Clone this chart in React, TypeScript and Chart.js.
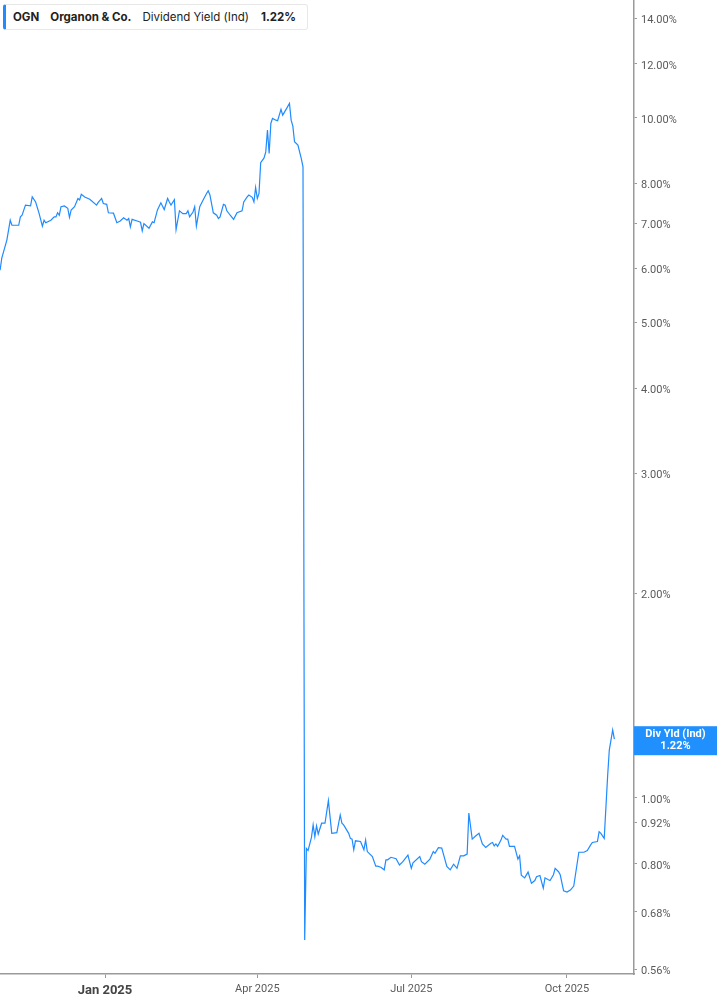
import { useEffect, useRef } from 'react';
import { Chart, registerables } from 'chart.js';

Chart.register(...registerables);

// ── Data (x = days since 2025-01-01, y = dividend yield in %) ──

const days = [
  -62, -61, -58, -56, -55, -52, -51, -50, -49, -47, -44, -43, -41, -39, -37, -36, -35, -32, -30, -29,
  -28, -27, -26, -24, -22, -21, -20, -18, -16, -15, -14, -12, -9, -5, -4, -2, -1, 1, 2, 5,
  7, 9, 11, 13, 14, 15, 16, 19, 21, 22, 23, 26, 28, 29, 31, 33, 35, 37, 38, 39,
  41, 42, 44, 46, 48, 49, 50, 52, 53, 54, 56, 58, 60, 61, 62, 64, 66, 67, 68, 70,
  71, 72, 74, 76, 78, 81, 82, 84, 85, 87, 88, 89, 90, 91, 92, 94, 95, 96, 97, 98,
  99, 101, 102, 104, 105, 107, 109, 110, 111, 112, 114, 115, 116, 117, 118, 119, 120, 122, 123, 124,
  125, 126, 128, 130, 132, 134, 137, 139, 140, 141, 144, 145, 146, 147, 148, 151, 153, 154, 155, 158,
  160, 161, 163, 165, 166, 167, 169, 172, 174, 176, 179, 181, 182, 186, 187, 189, 192, 194, 195, 197,
  199, 202, 204, 206, 208, 210, 212, 214, 215, 217, 219, 221, 223, 225, 228, 229, 230, 231, 232, 234,
  235, 237, 238, 239, 242, 244, 245, 246, 248, 250, 252, 254, 255, 257, 259, 260, 262, 263, 265, 266,
  268, 269, 271, 273, 275, 277, 280, 283, 285, 287, 288, 291, 292, 293, 295, 297, 298, 300, 301,
];

const yields = [
  5.97, 6.22, 6.61, 7.07, 6.95, 6.95, 6.95, 7.15, 7.19, 7.44, 7.42, 7.65, 7.52, 7.24, 6.93, 7.07, 7.01, 7.07, 7.15, 7.15,
  7.25, 7.19, 7.40, 7.42, 7.36, 7.14, 7.32, 7.40, 7.61, 7.57, 7.72, 7.65, 7.59, 7.44, 7.51, 7.61, 7.48, 7.46, 7.25, 7.24,
  7.01, 7.05, 7.13, 7.07, 7.11, 6.91, 7.09, 7.05, 7.02, 6.82, 6.99, 6.88, 7.03, 7.01, 7.32, 7.50, 7.33, 7.61, 7.52, 7.44,
  7.58, 6.85, 7.30, 7.23, 7.23, 7.30, 7.15, 7.27, 7.40, 6.93, 7.40, 7.57, 7.74, 7.81, 7.70, 7.25, 7.19, 7.11, 7.15, 7.46,
  7.44, 7.30, 7.19, 7.09, 7.25, 7.30, 7.52, 7.65, 7.70, 7.64, 7.52, 7.90, 7.61, 7.74, 8.59, 8.73, 8.91, 9.59, 8.86, 9.81,
  9.98, 9.92, 9.90, 10.29, 10.09, 10.29, 10.50, 9.92, 9.72, 9.22, 9.12, 8.91, 8.71, 8.47, 0.618, 0.843, 0.837, 0.875, 0.913, 0.877,
  0.910, 0.885, 0.918, 0.918, 0.991, 0.887, 0.889, 0.944, 0.918, 0.913, 0.887, 0.872, 0.870, 0.839, 0.865, 0.863, 0.839, 0.867, 0.834, 0.820,
  0.794, 0.794, 0.791, 0.784, 0.811, 0.811, 0.818, 0.814, 0.797, 0.806, 0.824, 0.788, 0.803, 0.820, 0.806, 0.799, 0.813, 0.834, 0.829, 0.845,
  0.844, 0.793, 0.784, 0.799, 0.788, 0.822, 0.822, 0.827, 0.950, 0.870, 0.879, 0.887, 0.856, 0.846, 0.858, 0.860, 0.850, 0.856, 0.849, 0.867,
  0.881, 0.870, 0.870, 0.849, 0.849, 0.813, 0.822, 0.770, 0.763, 0.778, 0.749, 0.756, 0.766, 0.769, 0.737, 0.763, 0.758, 0.756, 0.771, 0.788,
  0.779, 0.771, 0.730, 0.727, 0.732, 0.742, 0.832, 0.832, 0.837, 0.853, 0.860, 0.863, 0.892, 0.887, 0.872, 1.075, 1.176, 1.259, 1.22,
];

const xTicks = [0, 90, 181, 273];
const xTickLabels = ['Jan 2025', 'Apr 2025', 'Jul 2025', 'Oct 2025'];
const yTicks = [0.56, 0.68, 0.8, 0.92, 1, 2, 3, 4, 5, 6, 7, 8, 10, 12, 14];
const lastYield = 1.22;

const BLUE = '#1f8bff';
const AXIS = '#9a9a9a';
const TEXT = '#5a5a5a';
const FONT = 'Roboto, "Liberation Sans", Arial, sans-serif';

// ── End-of-line value tag on the right axis ──

const endLabel = {
  id: 'endLabel',
  afterDraw(chart: Chart) {
    const { ctx, chartArea, scales } = chart;
    const y = scales.y.getPixelForValue(lastYield) + 1.5;
    const left = chartArea.right;
    const w = chart.width - left;
    ctx.save();
    ctx.fillStyle = '#2190ff';
    ctx.fillRect(left, y - 14.5, w, 29);
    ctx.fillStyle = '#ffffff';
    ctx.font = `bold 11px ${FONT}`;
    ctx.textAlign = 'center';
    ctx.textBaseline = 'middle';
    ctx.fillText('Div Yld (Ind)', left + w / 2, y - 6);
    ctx.fillText(`${lastYield.toFixed(2)}%`, left + w / 2, y + 6);
    ctx.restore();
  },
};

// ── Legend header ──

function Header() {
  return (
    <div
      style={{
        position: 'absolute',
        left: 3,
        top: 4,
        height: 26,
        display: 'flex',
        alignItems: 'center',
        background: '#fff',
        border: '1px solid #e8e8e8',
        borderLeft: `3px solid ${BLUE}`,
        borderRadius: 3,
        padding: '0 11px 0 7px',
        fontFamily: 'Inter, "Noto Sans", sans-serif',
        fontSize: 11.5,
        color: '#222',
        whiteSpace: 'nowrap',
        boxSizing: 'border-box',
      }}
    >
      <span style={{ fontWeight: 700, marginRight: 11 }}>OGN</span>
      <span style={{ fontWeight: 700, marginRight: 11 }}>Organon &amp; Co.</span>
      <span style={{ fontWeight: 400, marginRight: 12 }}>Dividend Yield (Ind)</span>
      <span style={{ fontWeight: 700 }}>{lastYield.toFixed(2)}%</span>
    </div>
  );
}

// ── Chart ──

export default function App() {
  const canvasRef = useRef<HTMLCanvasElement>(null);
  const chartRef = useRef<Chart | null>(null);

  useEffect(() => {
    if (!canvasRef.current) return;
    if (chartRef.current) chartRef.current.destroy();

    chartRef.current = new Chart(canvasRef.current, {
      type: 'line',
      data: {
        datasets: [
          {
            data: days.map((d, i) => ({ x: d, y: yields[i] })),
            borderColor: BLUE,
            borderWidth: 1.2,
            pointRadius: 0,
            tension: 0,
            fill: false,
          },
        ],
      },
      options: {
        animation: false,
        responsive: true,
        maintainAspectRatio: false,
        layout: { padding: 0 },
        events: [],
        plugins: {
          legend: { display: false },
          tooltip: { enabled: false },
        },
        scales: {
          x: {
            type: 'linear',
            min: -62.05,
            max: 312.6,
            afterBuildTicks: (scale: any) => {
              scale.ticks = xTicks.map((v) => ({ value: v }));
            },
            afterFit: (scale: any) => {
              scale.height = 31;
              scale.paddingLeft = 0;
              scale.paddingRight = 0;
            },
            border: { display: true, color: AXIS, width: 1.5 },
            grid: { display: true, drawOnChartArea: false, tickLength: 4, color: AXIS },
            ticks: {
              autoSkip: false,
              maxRotation: 0,
              padding: 5,
              color: (ctx: any) => (ctx.tick && ctx.tick.value === 0 ? '#444' : TEXT),
              font: (ctx: any) =>
                ctx.tick && ctx.tick.value === 0
                  ? { family: FONT, size: 13, weight: 'bold' }
                  : { family: FONT, size: 11 },
              callback: (value: any) => xTickLabels[xTicks.indexOf(Number(value))] ?? '',
            },
          },
          y: {
            type: 'logarithmic',
            position: 'right',
            min: 0.551,
            max: 14.9,
            afterBuildTicks: (scale: any) => {
              scale.ticks = yTicks.map((v) => ({ value: v }));
            },
            afterFit: (scale: any) => {
              scale.width = 83;
              scale.paddingTop = 0;
              scale.paddingBottom = 0;
            },
            border: { display: true, color: AXIS, width: 1.5 },
            grid: { display: true, drawOnChartArea: false, tickLength: 3, color: AXIS },
            ticks: {
              autoSkip: false,
              padding: 4,
              labelOffset: 2,
              color: TEXT,
              font: { family: FONT, size: 11 },
              callback: (value: any) => `${Number(value).toFixed(2)}%`,
            },
          },
        },
      },
      plugins: [endLabel],
    });

    return () => {
      if (chartRef.current) {
        chartRef.current.destroy();
        chartRef.current = null;
      }
    };
  }, []);

  return (
    <div
      style={{
        position: 'fixed',
        left: 0,
        top: 0,
        width: 717,
        height: 1005,
        background: '#fff',
      }}
    >
      <canvas ref={canvasRef} />
      <Header />
    </div>
  );
}
